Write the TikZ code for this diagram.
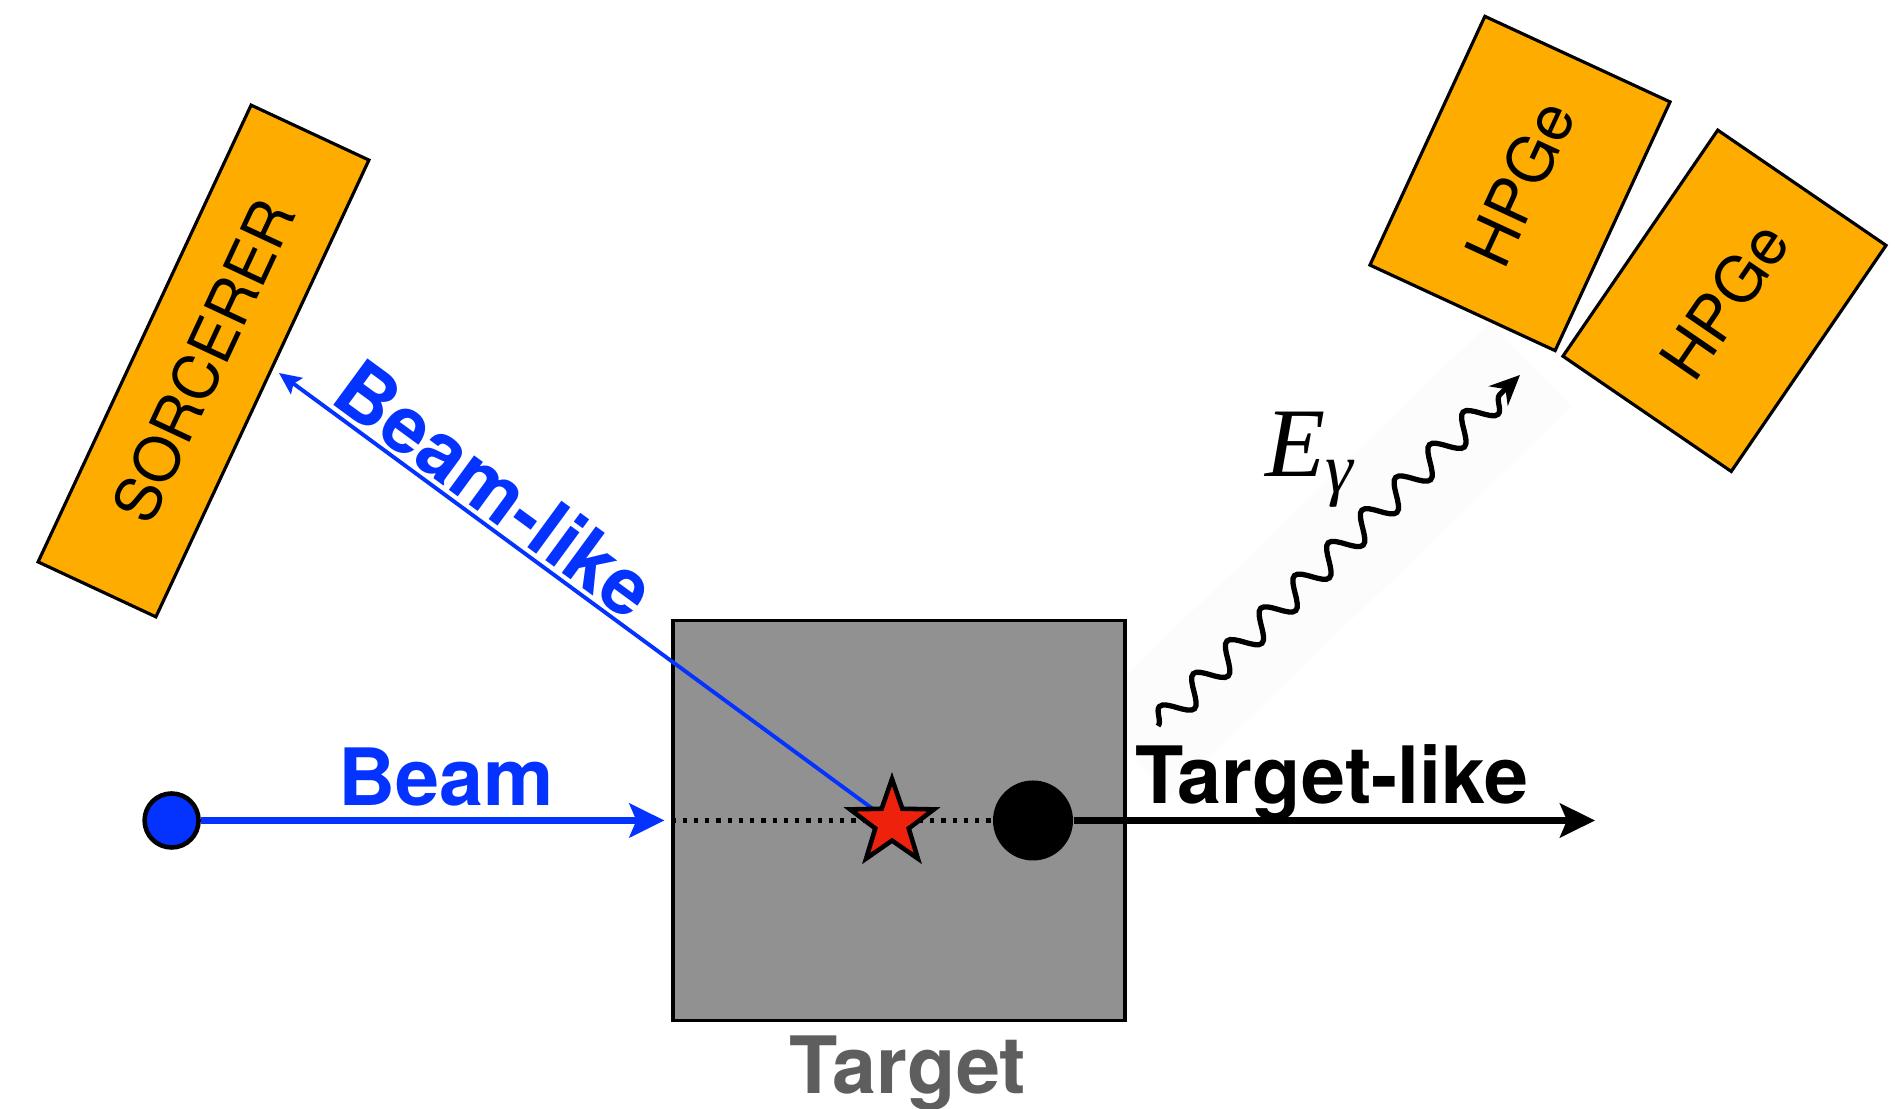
\documentclass[tikz,border=0pt]{standalone}
\usepackage{fontspec}
\setsansfont{TeX Gyre Heros}
\newfontfamily\serifit{Liberation Serif}
\usetikzlibrary{arrows.meta, shapes.geometric, decorations.pathmorphing}

\definecolor{detorange}{RGB}{254,173,0}
\definecolor{beamblue}{RGB}{4,51,255}
\definecolor{starred}{RGB}{238,34,12}
\definecolor{targetgray}{RGB}{145,145,145}
\definecolor{labelgray}{RGB}{94,94,94}

\begin{document}
\begin{tikzpicture}[
		detector/.style={rectangle, draw, line width=0.9pt, fill=detorange, inner sep=0pt, font=\sffamily\fontsize{18}{20}\selectfont},
		biglabel/.style={font=\sffamily\bfseries\fontsize{22.5}{24}\selectfont, inner sep=0pt},
		bigtip/.style={-{Stealth[length=0.35cm, width=0.34cm, inset=0.07cm]}}
	]
			\useasboundingbox (0,0) rectangle (18.95,11.09);

			% faint backdrop behind the gamma ray
			\fill [black!1.2, rotate around={44.1:(13.39,5.585)}] (10.47,5.0) rectangle (16.06,6.17);

			% detectors
			\node (sorcerer)[detector, rotate=65, minimum width=5.04cm, minimum height=1.3cm, font=\sffamily\fontsize{17.5}{20}\selectfont] at (2.035,7.48) {SORCERER};
			\node (hpgea)[detector, rotate=65.2, minimum width=2.74cm, minimum height=2.04cm] at (15.2,9.255) {HPGe};
			\node (hpgeb)[detector, rotate=55.6, minimum width=2.74cm, minimum height=2.04cm] at (17.245,8.082) {HPGe};

			% target
			\node (target)[rectangle, draw, line width=0.9pt, fill=targetgray, minimum width=4.52cm, minimum height=4cm] at (8.99,2.885) {};
			\node (targetlabel)[biglabel, text=labelgray, anchor=base] at (9.08,0.15) {Target};

			\node (beamsrc)[circle, draw, line width=1.3pt, fill=beamblue, minimum size=0.54cm, inner sep=0pt] at (1.716,2.885) {};
			\node (recoil)[circle, fill=black, minimum size=0.8cm, inner sep=0pt] at (10.33,2.885) {};

			\coordinate (bltip) at (2.79,7.36);
			\coordinate (tlend) at (15.95,2.885);
			\coordinate (gstart) at (11.58,3.83);
			\coordinate (gend) at (15.2,7.34);

			\draw [line width=1.2pt, dash pattern=on 1.2pt off 2pt](target.west) -- (recoil.west);
			\draw [-{Stealth[length=0.22cm, width=0.2cm, inset=0.04cm]}, beamblue, line width=1.1pt](8.92,2.86) -- (bltip) node[pos=0.68, sloped, above, biglabel, inner sep=1pt]{Beam-like};

			\node (hit)[star, star points=5, star point ratio=2.5, draw, line width=1.3pt, fill=starred, minimum size=0.88cm, inner sep=0pt] at (8.92,2.86) {};

			\draw [bigtip, beamblue, line width=1.8pt, shorten >=0.07cm](beamsrc) -- (target.west);
			\node (beamlabel)[biglabel, text=beamblue, anchor=base] at (4.46,3.03) {Beam};

			\draw [bigtip, line width=1.8pt](recoil) -- (tlend);
			\node (tllabel)[biglabel, anchor=base] at (13.32,3.05) {Target-like};

			% gamma ray
			\draw [-{Stealth[length=0.3cm, width=0.27cm]}, line width=1.5pt, decorate, decoration={snake, segment length=0.47cm, amplitude=0.13cm, post length=0.25cm}](gstart) -- (gend);
			\node (egamma)[inner sep=0pt, anchor=base west] at (12.65,6.32) {\serifit\itshape\fontsize{28}{30}\selectfont E\raisebox{-0.16cm}{\fontsize{20}{22}\selectfont γ}};
		\end{tikzpicture}
\end{document}
